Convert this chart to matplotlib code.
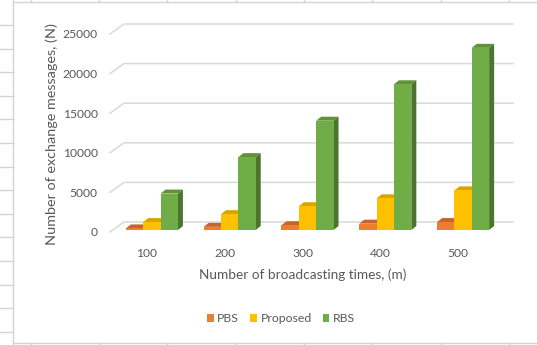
import matplotlib
matplotlib.use("Agg")
import matplotlib.pyplot as plt
from matplotlib.patches import Polygon
from matplotlib.lines import Line2D
from matplotlib.transforms import ScaledTranslation

# ---------------- data ----------------
broadcasts = ["100", "200", "300", "400", "500"]
pbs = [200, 400, 600, 800, 1000]
proposed = [1000, 2000, 3000, 4000, 5000]
rbs = [4600, 9200, 13800, 18400, 23000]
y_ticks = [0, 5000, 10000, 15000, 20000, 25000]

series = [("PBS", pbs), ("Proposed", proposed), ("RBS", rbs)]
# front, top, side colours of each 3d column
colors = {
    "PBS": ("#ED7D31", "#C9632A", "#B05A22"),
    "Proposed": ("#FFC000", "#D9A400", "#B88C00"),
    "RBS": ("#70AD47", "#5E933A", "#4B7431"),
}

plt.rcParams["font.family"] = ["Lato", "DejaVu Sans"]
txt = "#595959"
grid_c = "#D9D9D9"

W, H = 537, 345
fig = plt.figure(figsize=(W / 100, H / 100), dpi=100)

# axes box = plane of the column fronts
ax_l, ax_r = 113, 502
y0_px = 230
px_per_unit = 198 / 25000
ymax = 26500
ax = fig.add_axes([ax_l / W, (H - y0_px) / H, (ax_r - ax_l) / W, ymax * px_per_unit / H])
ax.set_xlim(-0.5, len(broadcasts) - 0.5)
ax.set_ylim(0, ymax)
for s in ax.spines.values():
    s.set_visible(False)

ux = (ax_r - ax_l) / len(broadcasts)   # px per category
uy = 1 / px_per_unit                    # value units per px

# back wall + side wall gridlines
back_dx, back_dy = 11 / ux, 8 * uy
front_dx, front_dy = -3 / ux, -2 * uy
for v in y_ticks:
    ax.plot([-0.5 + front_dx, -0.5 + back_dx, len(broadcasts) - 0.5 + back_dx],
            [v + front_dy, v + back_dy, v + back_dy],
            color=grid_c, lw=1.1, clip_on=False, zorder=1)

# 3d columns: front face from ax.bar, top and side faces from the same values
w = 0.223
ddx, ddy = 5 / ux, 4 * uy
for i in range(len(broadcasts)):
    for k, (name, vals) in enumerate(series):
        v = vals[i]
        fc, tc, sc = colors[name]
        x0 = i + (k - 1) * w - w / 2
        x1 = x0 + w
        z = 2 + i * 3 + k
        ax.add_patch(Polygon([(x0, v), (x1, v), (x1 + ddx, v + ddy), (x0 + ddx, v + ddy)],
                             closed=True, facecolor=tc, edgecolor="none", zorder=z))
        ax.add_patch(Polygon([(x1, 0), (x1, v), (x1 + ddx, v + ddy), (x1 + ddx, ddy)],
                             closed=True, facecolor=sc, edgecolor="none", zorder=z))
        ax.bar(x0, v, width=w, align="edge", color=fc, zorder=z + 0.5,
               label=name if i == 0 else None)

ax.set_yticks(y_ticks)
ax.set_yticklabels([str(t) for t in y_ticks])
ax.set_xticks(range(len(broadcasts)))
ax.set_xticklabels(broadcasts)
ax.tick_params(axis="y", length=0, pad=11, labelsize=8.7, labelcolor=txt)
ax.tick_params(axis="x", length=0, pad=13, labelsize=8.7, labelcolor=txt)
for lab in ax.get_xticklabels():
    lab.set_transform(lab.get_transform() + ScaledTranslation(-0.05, 0, fig.dpi_scale_trans))
for lab in ax.get_yticklabels():
    lab.set_transform(lab.get_transform() + ScaledTranslation(0, -0.02, fig.dpi_scale_trans))

fig.text(303 / W, 1 - 275 / H, "Number of broadcasting times, (m)",
         ha="center", va="center", fontsize=9.8, color=txt)
fig.text(52 / W, 1 - 134 / H, "Number of exchange messages, (N)",
         ha="center", va="center", rotation=90, fontsize=10.4, color=txt)

handles, labels = ax.get_legend_handles_labels()
fig.legend(handles, labels, loc="center", bbox_to_anchor=(281 / W, 1 - 319 / H),
           ncol=3, frameon=False, fontsize=8.8, labelcolor=txt,
           handlelength=0.55, handleheight=0.55, handletextpad=0.3, columnspacing=0.9)

# surrounding sheet cell lines
frame = "#D4D4D4"
def fline(xs, ys):
    fig.add_artist(Line2D([x / W for x in xs], [1 - y / H for y in ys],
                          color=frame, lw=1, transform=fig.transFigure))

fline([13, W], [2, 2])
fline([13, W], [343, 343])
fline([13, 13], [0, H])
for cx in [31, 99, 167, 236, 304, 372, 441, 509]:
    fline([cx, cx], [0, 2])
    fline([cx, cx], [343, H])
for k in range(14):
    ry = 25 + 23.6 * k
    fline([0, 13], [ry, ry])

fig.savefig("out.png", dpi=100)
